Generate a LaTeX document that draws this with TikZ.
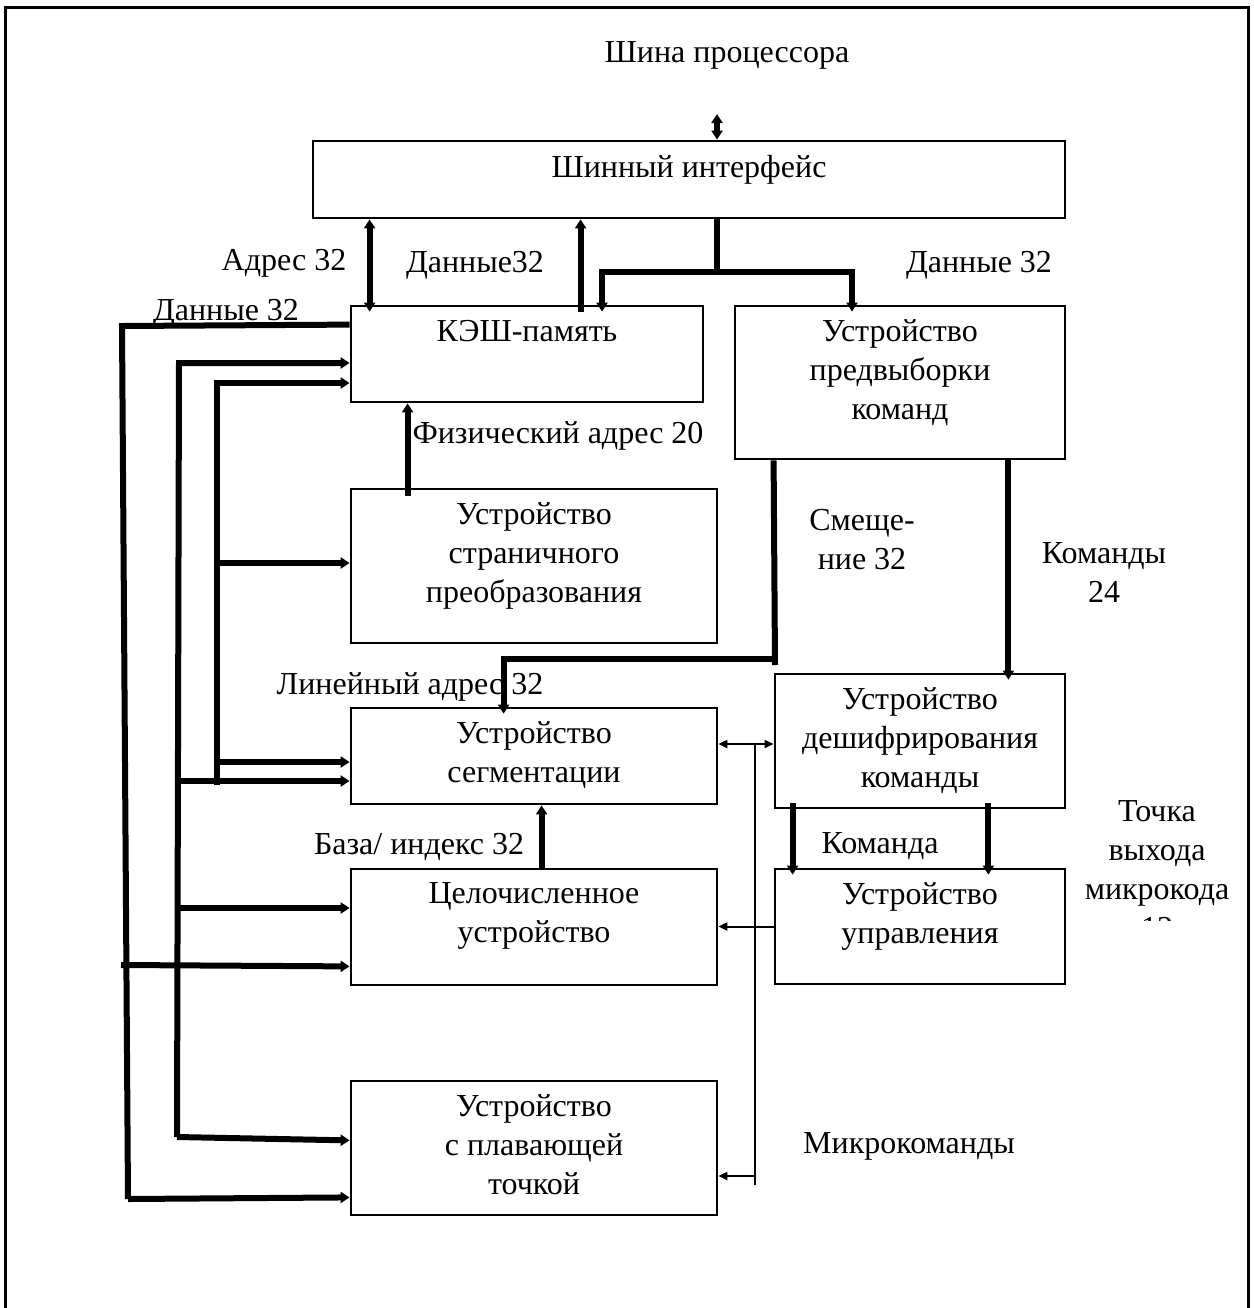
\documentclass[tikz,border=0pt]{standalone}
\usepackage{fontspec}
\setmainfont{Liberation Serif}
\usetikzlibrary{arrows.meta,positioning,calc}

\begin{document}
\begin{tikzpicture}[
  x=0.5pt, y=-0.5pt,
  unit/.style={rectangle, draw, line width=1.4pt, inner sep=0pt},
  caption/.style={anchor=north, align=center, inner sep=0pt,
    font=\fontsize{16}{19.5}\selectfont},
  tag/.style={align=center, inner sep=0pt, yshift=-1.75pt,
    font=\fontsize{16}{19.5}\selectfont},
  wire/.style={line width=3pt},
  bus/.style={wire, -{Triangle[length=4.5pt,width=5.5pt]}},
  dbus/.style={wire, {Triangle[length=4.5pt,width=5.5pt]}-{Triangle[length=4.5pt,width=5.5pt]}},
  dip/.style={shorten >=-3.5pt},
  ctlwire/.style={line width=1pt},
  ctl/.style={ctlwire, -{Triangle[length=4.5pt,width=4pt]}},
  dctl/.style={ctlwire, {Triangle[length=4.5pt,width=4pt]}-{Triangle[length=4.5pt,width=4pt]}},
]
  \clip (0,0) rectangle (1254,1308);
  \draw[line width=1.5pt] (5,7) rectangle (1248,1340);

  % units
  \node[unit, minimum width=376pt, minimum height=38.5pt] (biu) at (689,179.5) {};
  \node[unit, minimum width=176pt, minimum height=48pt] (cache) at (527,354) {};
  \node[unit, minimum width=165pt, minimum height=76.5pt] (prefetch) at (900,382.5) {};
  \node[unit, minimum width=183pt, minimum height=77pt] (paging) at (534,566) {};
  \node[unit, minimum width=183pt, minimum height=48pt] (seg) at (534,756) {};
  \node[unit, minimum width=145pt, minimum height=67pt] (decode) at (920,741) {};
  \node[unit, minimum width=183pt, minimum height=58pt] (integer) at (534,927) {};
  \node[unit, minimum width=145pt, minimum height=57.5pt] (control) at (920,926.5) {};
  \node[unit, minimum width=183pt, minimum height=67pt] (fpu) at (534,1148) {};

  \node[caption, below=7.5pt of biu.north] {Шинный интерфейс};
  \node[caption, below=7.5pt of cache.north] {КЭШ-память};
  \node[caption, below=7.5pt of prefetch.north] {Устройство\\предвыборки\\команд};
  \node[caption, below=7.5pt of paging.north] {Устройство\\страничного\\преобразования};
  \node[caption, below=7.5pt of seg.north] {Устройство\\сегментации};
  \node[caption, below=7.5pt of decode.north] {Устройство\\дешифрирования\\команды};
  \node[caption, below=7.5pt of integer.north] {Целочисленное\\устройство};
  \node[caption, below=7.5pt of control.north] {Устройство\\управления};
  \node[caption, below=7.5pt of fpu.north] {Устройство\\с плавающей\\точкой};

  % processor bus and bus interface links
  \coordinate (cpu) at (717,114);
  \draw[dbus] (cpu) -- (cpu |- biu.north);
  \draw[dbus, dip] ([xshift=10pt]cache.north west |- biu.south) -- ([xshift=10pt]cache.north west);
  \draw[bus] ([xshift=115.5pt,yshift=-3.5pt]cache.north west) -- ([xshift=115.5pt]cache.north west |- biu.south);
  \coordinate (fork) at (717,272);
  \draw[wire] (fork |- biu.south) -- ([yshift=-1.5pt]fork);
  \draw[bus, dip] (fork) -| ([xshift=37.5pt]cache.north);
  \draw[bus, dip] (fork) -| ([xshift=-24pt]prefetch.north);

  % internal data buses on the left
  \coordinate (outtop) at (122,326);
  \coordinate (outbot) at (128,1199);
  \coordinate (midtop) at (179,363);
  \coordinate (midbot) at (177,1137);
  \coordinate (intop) at (217,383);
  \coordinate (inbot) at (217,785);
  \draw[wire] ([yshift=-10pt]cache.north west) -- (outtop) -- (outbot);
  \draw[bus] (outbot) -- ([yshift=9.5pt]fpu.south west);
  \draw[bus] (121,965) -- ([yshift=10pt]integer.south west);
  \draw[bus] (midbot) -- (midtop) -- (midtop -| cache.west);
  \draw[bus] (midbot) -- ([yshift=38pt]fpu.south west);
  \draw[bus] ([yshift=-12.5pt]seg.west -| midtop) -- ([yshift=-12.5pt]seg.west);
  \draw[bus] ([yshift=9.5pt]integer.west -| midbot) -- ([yshift=9.5pt]integer.west);
  \draw[bus] (inbot) -- (intop) -- (intop -| cache.west);
  \draw[bus] ([yshift=1.5pt]paging.west -| intop) -- ([yshift=1.5pt]paging.west);
  \draw[bus] ([yshift=-3pt]seg.west -| intop) -- ([yshift=-3pt]seg.west);

  % addresses
  \draw[bus] ([xshift=29pt,yshift=-4pt]paging.north west) -- ([xshift=29pt]paging.north west |- cache.south);
  \coordinate (offs) at (775,659);
  \draw[wire] ([xshift=20pt]prefetch.south west) -- ([yshift=-3pt]offs);
  \draw[bus, dip] (offs) -| ([xshift=77pt]seg.north west);
  \draw[bus] ([xshift=96pt]integer.north west) -- ([xshift=96pt]integer.north west |- seg.south);

  % instruction path
  \draw[bus, dip] ([xshift=-29pt]prefetch.south east) -- ([xshift=-29pt]prefetch.south east |- decode.north);
  \draw[bus, dip] ([xshift=9.5pt,yshift=3pt]decode.south west) -- ([xshift=9.5pt]decode.south west |- control.north);
  \draw[bus, dip] ([xshift=-39pt,yshift=3pt]decode.south east) -- ([xshift=-39pt]decode.south east |- control.north);

  % microcommands
  \coordinate (mc) at (755,744);
  \coordinate (mcend) at (755,1185);
  \draw[dctl] (mc -| seg.east) -- (mc -| decode.west);
  \draw[ctlwire] (mc) -- (mcend);
  \draw[ctl] (control.west) -- (control.west -| integer.east);
  \draw[ctl] ([yshift=-14pt]fpu.east -| mc) -- ([yshift=-14pt]fpu.east);

  % signal names
  \node[tag] (cpulbl) at (727,52) {Шина процессора};
  \node[tag] (addrlbl) at (284,260) {Адрес 32};
  \node[tag] (uplbl) at (475,262) {Данные32};
  \node[tag] (downlbl) at (979,262) {Данные 32};
  \node[tag] (datalbl) at (226,310) {Данные 32};
  \node[tag] (physlbl) at (558,432) {Физический адрес 20};
  \node[tag] (offslbl) at (862,536) {Смеще-\\ние 32};
  \node[tag] (cmdslbl) at (1104,569) {Команды\\24};
  \node[tag] (linlbl) at (410,683) {Линейный адрес 32};
  \node[tag] (baselbl) at (419,843) {База/ индекс 32};
  \node[tag] (cmdlbl) at (880,843) {Команда};
  \node[tag] (mclbl) at (909,1143) {Микрокоманды};
  \begin{scope}
    \clip (1080,780) rectangle (1240,920);
    \node[tag] (exitlbl) at (1157,866) {Точка\\выхода\\микрокода\\12};
  \end{scope}
\end{tikzpicture}
\end{document}
